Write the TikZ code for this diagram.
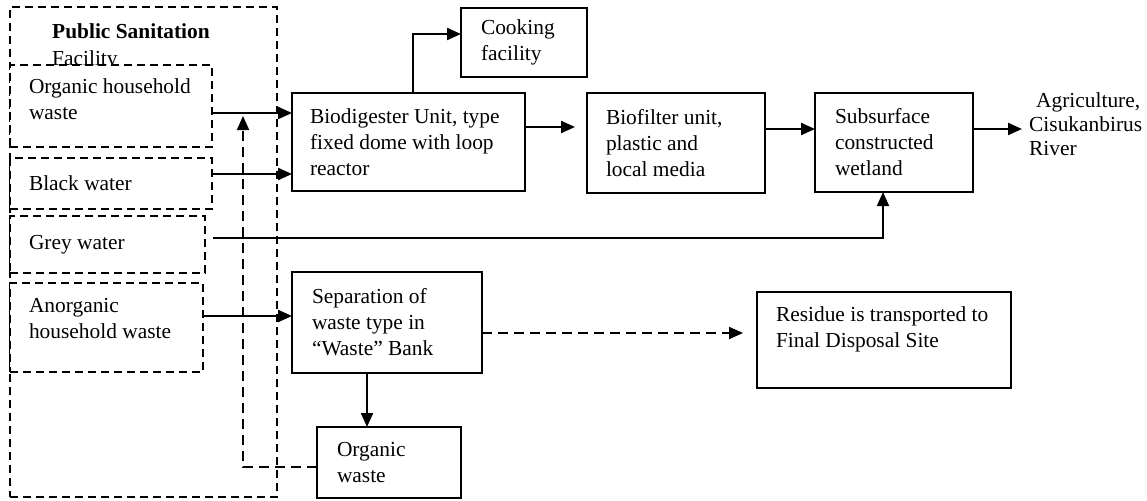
\documentclass[tikz,border=0pt]{standalone}
\usepackage{fontspec}
\setmainfont{Liberation Serif}
\usepackage{tikz}
\usetikzlibrary{arrows.meta}
\tikzset{>={Triangle[length=14pt,width=12pt]}}
\tikzset{unitbox/.style = {draw, line width=1.6pt, fill=white, anchor=north west, align=flush left, inner ysep=2pt, outer sep=0pt, font=\fontsize{21.4pt}{26pt}\selectfont}}
\tikzset{sourcebox/.style = {unitbox, line width=1.4pt, dash pattern=on 8pt off 5pt, inner xsep=19pt}}
\tikzset{flow/.style = {->, line width=2.2pt}}
\tikzset{dashflow/.style = {->, line width=2pt, dash pattern=on 10pt off 6pt}}
\tikzset{plaintext/.style = {anchor=north west, align=left, inner sep=0pt}}

\begin{document}
\begin{tikzpicture}[x=1pt,y=-1pt]
                    \useasboundingbox (0,0) rectangle (1147,500);

                    \node[sourcebox, minimum width=267pt, minimum height=490pt, fill=none] (psf) at (10,7) {};
                    \node[plaintext, font=\fontsize{21.4pt}{27pt}\selectfont] (title) at (52,23) {\textbf{Public Sanitation}\\Facility};

                    \node[sourcebox, minimum width=202pt, minimum height=82pt, text width=164pt] (ohw) at (10,65) {Organic household\\waste\\[-12pt]\mbox{}};
                    \node[sourcebox, minimum width=202pt, minimum height=51pt, text width=164pt] (bw) at (10,158) {Black water};
                    \node[sourcebox, minimum width=195pt, minimum height=57pt, text width=157pt] (gw) at (10,216) {Grey water};
                    \node[sourcebox, minimum width=193pt, minimum height=89pt, text width=155pt] (ahw) at (10,283) {Anorganic\\household waste\\[-8pt]\mbox{}};

                    \node[unitbox, inner xsep=18pt, minimum width=233pt, minimum height=98pt, text width=197pt] (bio) at (292,93) {Biodigester Unit, type\\fixed dome with loop\\reactor};
                    \node[unitbox, inner xsep=20pt, minimum width=126pt, minimum height=69pt, text width=86pt] (cook) at (461,8) {Cooking\\facility};
                    \node[unitbox, inner xsep=19pt, minimum width=178pt, minimum height=100pt, text width=140pt] (fil) at (587,93) {Biofilter unit,\\plastic and\\local media};
                    \node[unitbox, inner xsep=20pt, minimum width=158pt, minimum height=99pt, text width=118pt] (wet) at (815,93) {Subsurface\\constructed\\wetland};
                    \node[plaintext, font=\fontsize{21.4pt}{24pt}\selectfont] (agr) at (1029,92) {\hspace*{7pt}Agriculture,\\Cisukanbirus\\River};

                    \node[unitbox, inner xsep=20pt, minimum width=190pt, minimum height=101pt, text width=150pt] (sep) at (292,272) {Separation of\\waste type in\\``Waste'' Bank};
                    \node[unitbox, inner xsep=19pt, minimum width=254pt, minimum height=96pt, text width=216pt] (res) at (757,292) {Residue is transported to\\Final Disposal Site\\\mbox{}};
                    \node[unitbox, inner xsep=20pt, minimum width=144pt, minimum height=71pt, text width=104pt] (org) at (317,427) {Organic\\waste};

                    \coordinate (merge) at (243,116);

                    \draw[flow] (ohw.east |- 0,113) -- (bio.west |- 0,113);
                    \draw[flow] (bw.east |- 0,174) -- (bio.west |- 0,174);
                    \draw[->, line width=1.6pt, shorten <=8pt] (gw.east |- 0,238) -| (wet.south -| 883,0);
                    \draw[flow] (ahw.east |- 0,316) -- (sep.west |- 0,316);
                    \draw[flow] (bio.north -| 413,0) |- (cook.west |- 0,34);
                    \draw[flow, shorten >=12pt] (bio.east |- 0,127) -- (fil.west |- 0,127);
                    \draw[flow] (fil.east |- 0,129) -- (wet.west |- 0,129);
                    \draw[flow, shorten >=7pt] (wet.east |- 0,129) -- (agr.west |- 0,129);
                    \draw[dashflow, shorten >=14pt] (sep.east |- 0,333) -- (res.west |- 0,333);
                    \draw[flow] (sep.south -| 367,0) -- (org.north -| 367,0);
                    \draw[dashflow] (org.west |- 0,467) -| (merge);
                \end{tikzpicture}
\end{document}
